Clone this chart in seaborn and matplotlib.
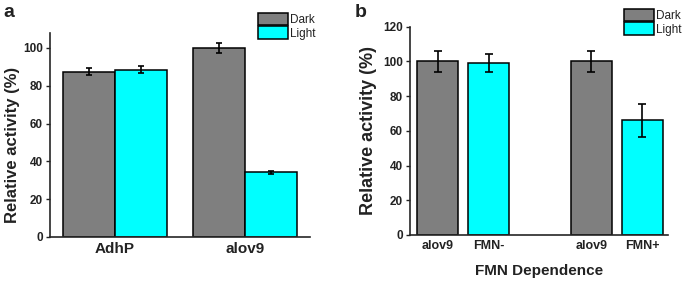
import matplotlib
matplotlib.use('Agg')
import matplotlib.pyplot as plt
import seaborn as sns
import pandas as pd

# ---- data ----
conditions = ['Dark', 'Light']
palette = {'Dark': '#7f7f7f', 'Light': '#00ffff'}

# panel a
groups_a = ['AdhP', 'alov9']
dark_a = [87.5, 100.0]
light_a = [88.5, 34.2]
dark_err_a = [2.0, 2.9]
light_err_a = [1.9, 0.7]

# panel b  (FMN dependence)
cats_b = ['alov9 (FMN-)', 'FMN-', 'alov9 (FMN+)', 'FMN+']
cond_b = ['Dark', 'Light', 'Dark', 'Light']
vals_b = [100.0, 99.0, 100.0, 66.0]
err_b = [6.1, 5.2, 6.1, 9.3]
order_b = ['alov9 (FMN-)', 'FMN-', ' ', 'alov9 (FMN+)', 'FMN+']
ticklabels_b = ['alov9', 'FMN-', '', 'alov9', 'FMN+']

sns.set_style('ticks')
plt.rcParams['font.family'] = ['Liberation Sans', 'DejaVu Sans']
plt.rcParams['axes.linewidth'] = 1.2
plt.rcParams['text.color'] = '#222222'
plt.rcParams['axes.labelcolor'] = '#222222'
plt.rcParams['xtick.color'] = '#222222'
plt.rcParams['ytick.color'] = '#222222'

df_a = pd.DataFrame({
    'group': groups_a * 2,
    'cond': ['Dark'] * 2 + ['Light'] * 2,
    'value': dark_a + light_a,
    'err': dark_err_a + light_err_a,
})
df_b = pd.DataFrame({'cat': cats_b, 'cond': cond_b, 'value': vals_b, 'err': err_b})

fig = plt.figure(figsize=(6.85, 2.81), dpi=100)
ax1 = fig.add_axes([0.073, 0.157, 0.380, 0.726])
ax2 = fig.add_axes([0.598, 0.164, 0.377, 0.741])

# ____ panel a ____
sns.barplot(data=df_a, x='group', y='value', hue='cond', hue_order=conditions,
            palette=palette, width=0.8, edgecolor='black', linewidth=1.1,
            errorbar=None, saturation=1, ax=ax1)
for cont, c in zip(ax1.containers, conditions):
    errs = df_a.loc[df_a.cond == c, 'err'].values
    xs = [b.get_x() + b.get_width() / 2 for b in cont]
    ys = [b.get_height() for b in cont]
    ax1.errorbar(xs, ys, yerr=errs, fmt='none', ecolor='black',
                 elinewidth=1.2, capsize=2.5, capthick=1.2)
ax1.set_xlim(-0.5, 1.5)
ax1.set_ylim(0, 108)
ax1.set_yticks([0, 20, 40, 60, 80, 100])
ax1.set_xlabel('')
ax1.set_ylabel('Relative activity (%)', fontsize=12, fontweight='bold')
ax1.yaxis.set_label_coords(-0.115, 0.45)
ax1.tick_params(axis='x', length=0, labelsize=11, pad=4)
ax1.tick_params(axis='y', length=3, width=1, labelsize=8.5, pad=2)
for t in ax1.get_xticklabels() + ax1.get_yticklabels():
    t.set_fontweight('bold')
sns.despine(ax=ax1)
ax1.legend(loc='upper left', bbox_to_anchor=(258 / 685, 1 - 13 / 281),
           bbox_transform=fig.transFigure, frameon=False, fontsize=8.5,
           handlelength=2.5, handleheight=1.25, labelspacing=0.02,
           handletextpad=0.25, borderpad=0, borderaxespad=0)

# ____ panel b ____
sns.barplot(data=df_b, x='cat', y='value', hue='cond', hue_order=conditions,
            order=order_b, palette=palette, dodge=False, width=0.8,
            edgecolor='black', linewidth=1.1, errorbar=None, saturation=1, ax=ax2)
for cont, c in zip(ax2.containers, conditions):
    errs = df_b.loc[df_b.cond == c, 'err'].values
    xs = [b.get_x() + b.get_width() / 2 for b in cont]
    ys = [b.get_height() for b in cont]
    ax2.errorbar(xs, ys, yerr=errs, fmt='none', ecolor='black',
                 elinewidth=1.2, capsize=3, capthick=1.2)
ax2.set_xlim(-0.55, 4.5)
ax2.set_ylim(0, 120)
ax2.set_yticks([0, 20, 40, 60, 80, 100, 120])
ax2.set_xticks(range(len(order_b)))
ax2.set_xticklabels(ticklabels_b)
ax2.set_xlabel('FMN Dependence', fontsize=11, fontweight='bold', labelpad=8)
ax2.set_ylabel('Relative activity (%)', fontsize=13, fontweight='bold', labelpad=4)
ax2.tick_params(axis='x', length=0, labelsize=9, pad=4)
ax2.tick_params(axis='y', length=3, width=1, labelsize=8.5, pad=2)
for t in ax2.get_xticklabels() + ax2.get_yticklabels():
    t.set_fontweight('bold')
sns.despine(ax=ax2)
ax2.legend(loc='upper left', bbox_to_anchor=(624 / 685, 1 - 9 / 281),
           bbox_transform=fig.transFigure, frameon=False, fontsize=8.5,
           handlelength=2.5, handleheight=1.25, labelspacing=0.02,
           handletextpad=0.25, borderpad=0, borderaxespad=0)

fig.text(0.005, 0.985, 'a', fontsize=14, fontweight='bold', va='top')
fig.text(0.518, 0.985, 'b', fontsize=14, fontweight='bold', va='top')

fig.savefig('out.png', dpi=100)
